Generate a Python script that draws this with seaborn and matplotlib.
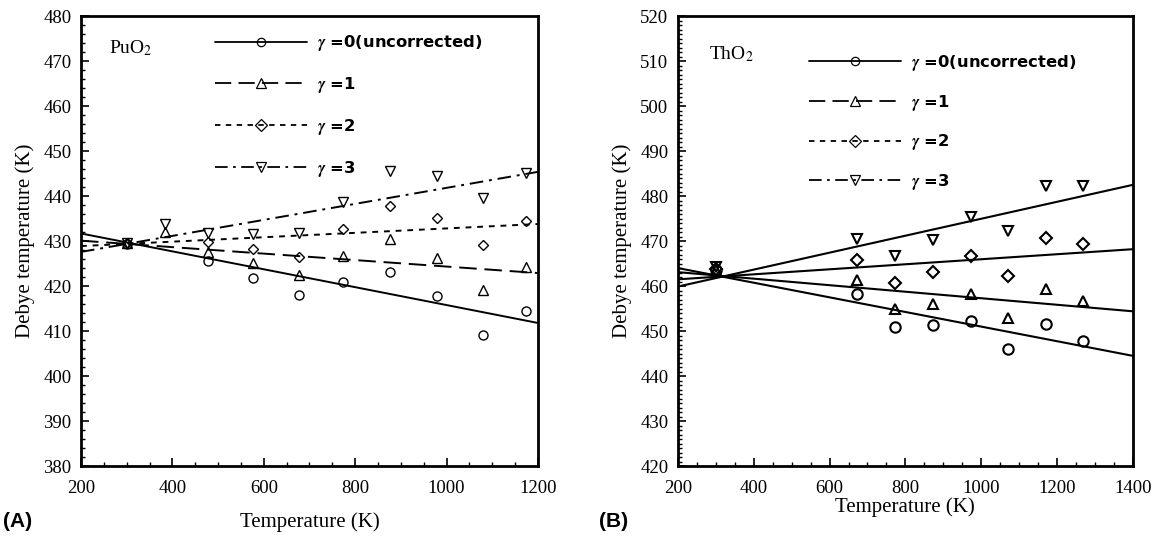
import numpy as np
import pandas as pd
import matplotlib
matplotlib.use("Agg")
import matplotlib.pyplot as plt
import seaborn as sns
from matplotlib.lines import Line2D
from matplotlib.ticker import MultipleLocator

# ---------------- data ----------------
# Panel A: PuO2
puo2_T = [300, 383, 479, 577, 678, 774, 877, 980, 1079, 1174]
puo2_g0 = [429.4, np.nan, 425.5, 421.9, 418.0, 420.9, 423.2, 417.7, 409.2, 414.4]
puo2_g1 = [429.5, 432.0, 427.5, 425.1, 422.4, 426.7, 430.4, 426.3, 419.1, 424.2]
puo2_g2 = [429.5, np.nan, 429.7, 428.3, 426.4, 432.7, 437.9, 435.2, 429.2, 434.4]
puo2_g3 = [429.5, 433.8, 431.8, 431.6, 431.7, 438.7, 445.6, 444.4, 439.5, 445.1]
puo2_fit_T = [200, 1200]
puo2_fit_g0 = [431.7, 411.8]
puo2_fit_g1 = [430.1, 422.9]
puo2_fit_g2 = [428.9, 433.8]
puo2_fit_g3 = [427.6, 445.4]

# Panel B: ThO2
tho2_T = [300, 672, 773, 872, 972, 1071, 1170, 1270]
tho2_g0 = [463.6, 458.2, 450.8, 451.4, 452.3, 446.0, 451.5, 447.9]
tho2_g1 = [463.5, 461.3, 454.8, 456.1, 458.2, 452.8, 459.4, 456.7]
tho2_g2 = [463.8, 465.9, 460.6, 463.1, 466.7, 462.2, 470.6, 469.4]
tho2_g3 = [464.3, 470.5, 466.7, 470.2, 475.4, 472.2, 482.3, 482.3]
tho2_fit_T = [200, 1400]
tho2_fit_g0 = [464.0, 444.5]
tho2_fit_g1 = [463.1, 454.4]
tho2_fit_g2 = [461.5, 468.2]
tho2_fit_g3 = [459.9, 482.5]

labels = [r"$\boldsymbol{\gamma}$ =0(uncorrected)", r"$\boldsymbol{\gamma}$ =1",
          r"$\boldsymbol{\gamma}$ =2", r"$\boldsymbol{\gamma}$ =3"]

# ---------------- style ----------------
sns.set_theme(style="ticks")
plt.rcParams["font.family"] = ["Liberation Serif", "DejaVu Serif"]
plt.rcParams["mathtext.fontset"] = "stix"
plt.rcParams["text.color"] = "black"
plt.rcParams["axes.labelcolor"] = "black"
plt.rcParams["xtick.color"] = "black"
plt.rcParams["ytick.color"] = "black"

markers = ["o", "^", "D", "v"]
msizes = [6.5, 6.5, 5.0, 6.5]
styles_a = ["-", (0, (9, 4)), (0, (3, 3)), (0, (7, 3, 1.5, 3))]

fig = plt.figure(figsize=(11.57, 5.40), dpi=100)
axA = fig.add_axes([0.070, 0.137, 0.395, 0.833])
axB = fig.add_axes([0.586, 0.137, 0.393, 0.833])


def draw_points(ax, T, series, mew, scale=1.0):
    for vals, m, ms in zip(series, markers, msizes):
        df = pd.DataFrame({"T": T, "v": vals}).dropna()
        sns.lineplot(data=df, x="T", y="v", ax=ax, estimator=None, linestyle="none",
                     marker=m, markersize=ms * scale, markerfacecolor="none",
                     markeredgecolor="black", markeredgewidth=mew, color="black")


def draw_fits(ax, T, fits, lstyles, lw):
    for vals, ls in zip(fits, lstyles):
        df = pd.DataFrame({"T": T, "v": vals})
        sns.lineplot(data=df, x="T", y="v", ax=ax, estimator=None, color="black",
                     linewidth=lw, linestyle=ls)


def style_axes(ax, xlim, ylim, ymin_step):
    ax.set_xlim(*xlim)
    ax.set_ylim(*ylim)
    ax.xaxis.set_major_locator(MultipleLocator(200))
    ax.xaxis.set_minor_locator(MultipleLocator(50))
    ax.yaxis.set_major_locator(MultipleLocator(10))
    ax.yaxis.set_minor_locator(MultipleLocator(ymin_step))
    ax.tick_params(which="both", direction="in", top=False, right=False,
                   labelsize=13.5, colors="black", pad=7)
    ax.tick_params(axis="x", which="both", pad=10)
    ax.tick_params(which="major", length=6, width=1.2)
    ax.tick_params(which="minor", length=3, width=1.0)
    for s in ax.spines.values():
        s.set_visible(True)
        s.set_linewidth(2.0)
        s.set_color("black")
    ax.set_ylabel("Debye temperature (K)", fontsize=15, labelpad=6)


def add_legend(ax, anchor, spacing):
    handles = [Line2D([], [], color="black", linestyle=ls, linewidth=1.3, marker=m,
                      markersize=ms, markerfacecolor="none", markeredgecolor="black",
                      markeredgewidth=0.9)
               for ls, m, ms in zip(styles_a, markers, [6, 7, 6, 7])]
    leg = ax.legend(handles, labels, loc="upper left", bbox_to_anchor=anchor,
                    frameon=False, handlelength=5.6, handletextpad=0.6,
                    labelspacing=spacing, borderpad=0, borderaxespad=0, numpoints=1,
                    prop={"family": "DejaVu Sans", "weight": "bold", "size": 11.8})
    return leg


# Panel A
draw_fits(axA, puo2_fit_T, [puo2_fit_g0, puo2_fit_g1, puo2_fit_g2, puo2_fit_g3],
          styles_a, 1.4)
draw_points(axA, puo2_T, [puo2_g0, puo2_g1, puo2_g2, puo2_g3], 1.0, 1.0)
style_axes(axA, (200, 1200), (380, 480), 2)
axA.set_xlabel("Temperature (K)", fontsize=15, labelpad=11)
axA.text(0.062, 0.93, r"PuO$_2$", transform=axA.transAxes, fontsize=14,
         va="center", ha="left")
add_legend(axA, (0.293, 0.962), 1.33)

# Panel B
draw_fits(axB, tho2_fit_T, [tho2_fit_g0, tho2_fit_g1, tho2_fit_g2, tho2_fit_g3],
          ["-"] * 4, 1.5)
draw_points(axB, tho2_T, [tho2_g0, tho2_g1, tho2_g2, tho2_g3], 1.5, 1.15)
style_axes(axB, (200, 1400), (420, 520), 1)
axB.set_xlabel("Temperature (K)", fontsize=15, labelpad=0)
axB.text(0.068, 0.915, r"ThO$_2$", transform=axB.transAxes, fontsize=14,
         va="center", ha="left")
add_legend(axB, (0.288, 0.918), 1.2)

fig.text(0.003, 0.035, "(A)", fontsize=15, fontweight="bold", family="Liberation Sans",
         va="center", ha="left")
fig.text(0.518, 0.035, "(B)", fontsize=15, fontweight="bold", family="Liberation Sans",
         va="center", ha="left")

fig.savefig("out.png", dpi=100)
